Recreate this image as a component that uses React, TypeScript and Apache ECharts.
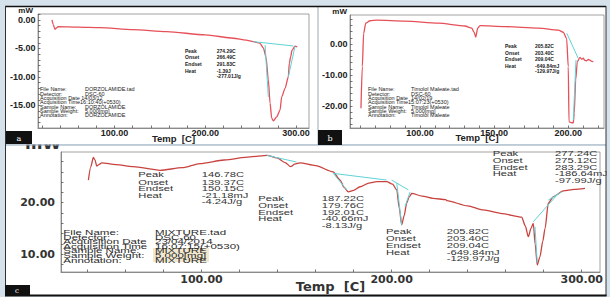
import React, { useEffect, useRef } from "react";
import * as echarts from "echarts";

// ---------- Panel a : Dorzolamide ----------
const dorzTemp = [31.1, 32.5, 34.4, 36, 37.7, 60, 84, 120, 157.5, 200, 231, 245, 253, 260.3, 264, 266.9, 269.5, 271.4, 273.2, 275, 278.7, 282.4, 284.2, 287.9, 291.5, 292.6, 294.2, 295.6, 298.9, 301.4];
const dorzHeat = [0, -0.8, -1.63, -1.4, -1.17, -1.25, -1.35, -1.7, -2.05, -2.6, -3.2, -3.55, -3.81, -4.09, -4.9, -6.47, -10.5, -14.6, -17.2, -17.7, -17.0, -15.8, -13.5, -12.0, -10.0, -7.6, -6.4, -5.3, -4.6, -4.7];
// cyan analysis lines [t1, v1, t2, v2]
const dorzCyan = [
  [253, -3.8, 297, -4.56],
  [265.9, -4.4, 269.5, -13.5],
  [298.9, -4.6, 291.5, -10.0],
];
const dorzXLabels = [100, 200, 300];
const dorzYLabels = [0, -5, -10, -15];
const dorzAnnLabels = ["Peak", "Onset", "Endset", "Heat"];
const dorzAnnValues = ["274.29C", "266.49C", "291.83C", "-1.39J", "-277.01J/g"];
const dorzInfo = [
  ["File Name:", "DORZOLAMIDE.tad"],
  ["Detector:", "DSC-60"],
  ["Acquisition Date 14/03/12", ""],
  ["Acquisition Time16:10:40(+0530)", ""],
  ["Sample Name:", "DORZOLAMIDE"],
  ["Sample Weight:", "5.000[mg]"],
  ["Annotation:", "DORZOLAMIDE"],
];

// ---------- Panel b : Timolol Maleate ----------
const timTemp = [60.2, 61.1, 62, 63.4, 66.3, 70.8, 89.9, 112.3, 130.3, 134.9, 136.5, 137.6, 138.9, 140.5, 157.3, 179.8, 193.3, 196.6, 198.9, 200, 200.5, 202.3, 203.4, 204, 205, 206.1, 207.9, 209, 210.1, 211.2, 212.4, 213.5, 214.6, 215.8, 216.9];
const timHeat = [-20.7, -7.3, 3.4, 6.7, 7.5, 7.7, 7.4, 6.7, 5.8, 5.1, 3.8, 2.2, 5.1, 5.9, 5.6, 5.1, 4.5, 3.8, 1.8, -7.3, -25.1, -25.4, -25.4, -22.4, -11.6, -5.7, -4.3, -4.9, -4.6, -5.3, -5.4, -5.0, -5.2, -5.6, -5.7];
const timCyan = [
  [199, 3.45, 206.7, -4.6],
  [203.4, -24.5, 205.2, -5.2],
];
const timXLabels = [100, 150, 200];
const timYLabels = [0, -10, -20];
const timAnnLabels = ["Peak", "Onset", "Endset", "Heat"];
const timAnnValues = ["205.82C", "203.40C", "209.04C", "-649.84mJ", "-129.97J/g"];
const timInfo = [
  ["File Name:", "Timolol Maleate.tad"],
  ["Detector:", "DSC-60"],
  ["Acquisition Date", "14/02/19"],
  ["Acquisition Time15:07:23(+0530)", ""],
  ["Sample Name:", "Timolol Maleate"],
  ["Sample Weight:", "5.000[mg]"],
  ["Annotation:", "Timolol Maleate"],
];

// ---------- Panel c : Mixture ----------
const mixTemp = [40.5, 41.8, 43.1, 44.0, 44.9, 46.0, 47.5, 55, 64, 78.2, 90, 99.2, 112, 125.5, 134.5, 139.7, 144, 146.9, 149, 151.8, 160, 169.2, 172.9, 175, 177.2, 180, 183.4, 188, 192.2, 197.4, 200.5, 202.7, 204, 205.3, 206.6, 207.9, 209.2, 210.6, 216, 221.8, 228.5, 229, 240, 248.1, 258, 268.4, 270.3, 271.9, 273.3, 274.5, 275.5, 276.6, 278, 279.5, 280.7, 282.4, 285.1, 290.3, 296, 301.7];
const mixHeat = [24.4, 27.0, 28.8, 28.3, 27.1, 27.4, 27.75, 27.4, 27.0, 26.3, 26.8, 27.6, 28.3, 28.9, 29.2, 28.7, 27.8, 27.0, 27.5, 27.75, 27.2, 26.0, 24.4, 23.0, 22.1, 22.4, 23.1, 23.8, 24.1, 24.1, 23.6, 22.5, 19, 15.7, 17.5, 19.9, 21.1, 21.8, 21.3, 20.85, 20.6, 20.4, 19.4, 18.6, 17.9, 17.2, 15.5, 13.4, 15.0, 16.0, 12, 7.9, 9.5, 12.5, 15.0, 19.9, 21.2, 22.3, 22.6, 22.8];
const mixCyan = [
  [134.3, 29.2, 150, 27.9],
  [169.3, 25.7, 197.4, 24.4],
  [169.3, 25.7, 176.4, 22.5],
  [200, 24.4, 208.8, 22.5],
  [202.7, 23.8, 205.3, 15.7],
  [207, 19.2, 209.7, 22.1],
  [274.5, 16.3, 287.7, 21.8],
  [275.4, 15.35, 276.6, 8.3],
  [282.4, 20.5, 289.5, 22.1],
];
const mixXLabels = [100, 200, 300];
const mixYLabels = [10, 20];
const mixAnnLabels = ["Peak", "Onset", "Endset", "Heat"];
const mixAnn1 = ["146.78C", "139.37C", "150.15C", "-21.18mJ", "-4.24J/g"];
const mixAnn2 = ["187.22C", "179.76C", "192.01C", "-40.66mJ", "-8.13J/g"];
const mixAnn3 = ["205.82C", "203.40C", "209.04C", "-649.84mJ", "-129.97J/g"];
const mixAnn4 = ["277.24C", "275.12C", "283.29C", "-186.64mJ", "-97.99J/g"];
const mixInfo = [
  ["File Name:", "MIXTURE.tad"],
  ["Detector:", "DSC-60"],
  ["Acquisition Date", "23/04/2014"],
  ["Acquisition Time", "16:07:15(+0530)"],
  ["Sample Name:", "MIXTURE"],
  ["Sample Weight:", "5.000[mg]"],
  ["Annotation:", "MIXTURE"],
];

const range = (a: number, b: number, s: number) => {
  const r: number[] = [];
  for (let v = a; v <= b + 1e-9; v += s) r.push(Math.round(v * 100) / 100);
  return r;
};
const zip = (a: number[], b: number[]) => a.map((x, i) => [x, b[i]]);

const BG = "#d6e2eb";
const RED_AB = "#e65058";
const RED_C = "#c8433f";
const CYAN = "#5ed3d6";

function txt(x: number, y: number, text: string, size: number, o: any = {}) {
  return {
    type: "text",
    x,
    y,
    z: o.z ?? 20,
    scaleX: o.sx ?? 1,
    style: {
      text,
      fontSize: size,
      fontFamily: o.ff ?? "Liberation Sans",
      fontWeight: o.fw ?? "normal",
      fill: o.c ?? "#222",
      align: o.al ?? "left",
      textAlign: o.al ?? "left",
      verticalAlign: "middle",
      textVerticalAlign: "middle",
    },
  };
}

function xAx(grid: number, min: number, max: number, labels: number[], ticks: number[], big: boolean, gap: number) {
  return {
    type: "value",
    gridIndex: grid,
    min,
    max,
    axisLine: { show: true, onZero: false, lineStyle: { color: "#777", width: 0.8 } },
    axisTick: { show: true, inside: true, length: 2.5, customValues: ticks, lineStyle: { color: "#555", width: 0.8 } },
    axisLabel: {
      customValues: labels,
      formatter: (v: number) => v.toFixed(2),
      margin: big ? 2 : 0.5,
      fontFamily: big ? "DejaVu Sans" : "Liberation Sans",
      fontSize: big ? 11 : 9,
      fontWeight: "bold",
      color: big ? "#333" : "#222",
    },
    splitLine: { show: false },
    name: "Temp  [C]",
    nameLocation: "middle",
    nameGap: gap,
    nameMoveOverlap: false,
    nameTextStyle: {
      fontFamily: big ? "DejaVu Sans" : "Liberation Sans",
      fontSize: big ? 13 : 9.5,
      fontWeight: "bold",
      color: big ? "#333" : "#222",
    },
  };
}

function yAx(grid: number, min: number, max: number, labels: number[], ticks: number[], big: boolean) {
  return {
    type: "value",
    gridIndex: grid,
    position: "left",
    min,
    max,
    axisLine: { show: true, onZero: false, lineStyle: { color: "#777", width: 0.8 } },
    axisTick: { show: true, inside: true, length: 2.5, customValues: ticks, lineStyle: { color: "#555", width: 0.8 } },
    axisLabel: {
      show: big,
      customValues: labels,
      formatter: (v: number) => Number(v).toFixed(2),
      margin: 6,
      fontFamily: "DejaVu Sans",
      fontSize: 11,
      fontWeight: "bold",
      color: "#333",
    },
    splitLine: { show: false },
  };
}

function redSeries(xi: number, t: number[], h: number[], color: string) {
  return {
    type: "line",
    xAxisIndex: xi,
    yAxisIndex: xi,
    data: zip(t, h),
    symbol: "none",
    showSymbol: false,
    smooth: 0.25,
    smoothMonotone: "x",
    lineStyle: { color, width: 1.3 },
    z: 3,
  };
}

function cyanSeries(xi: number, segs: number[][]) {
  return segs.map((s) => ({
    type: "line",
    xAxisIndex: xi,
    yAxisIndex: xi,
    data: [
      [s[0], s[1]],
      [s[2], s[3]],
    ],
    symbol: "none",
    showSymbol: false,
    lineStyle: { color: CYAN, width: 1 },
    z: 4,
  }));
}

function annBlock(lx: number, vx: number, ys: number[], labels: string[], values: string[], size: number, o: any = {}) {
  const els: any[] = [];
  labels.forEach((l, i) => els.push(txt(lx, ys[i], l, size, o)));
  values.forEach((v, i) => els.push(txt(vx, ys[i], v, size, o)));
  return els;
}

function infoBlock(lx: number, vx: number, y0: number, step: number, rows: string[][], size: number, o: any = {}) {
  const els: any[] = [];
  rows.forEach((r, i) => {
    els.push(txt(lx, y0 + i * step, r[0], size, o));
    if (r[1]) els.push(txt(vx, y0 + i * step, r[1], size, o));
  });
  return els;
}

export default function App() {
  const ref = useRef<HTMLDivElement>(null);
  useEffect(() => {
    if (!ref.current) return;
    const chart = echarts.init(ref.current, undefined, { renderer: "svg" });

    const gridBase = { show: true, borderColor: "#8c8c8c", borderWidth: 0.8, backgroundColor: "transparent" };
    const grids = [
      { ...gridBase, left: 38, top: 14, width: 271, height: 114 },
      { ...gridBase, left: 350, top: 15, width: 254, height: 113 },
      { ...gridBase, left: 61, top: 152, width: 539, height: 120 },
    ];
    const yRanges = [
      [-18.95, 1.05],
      [-27.1, 9.35],
      [6.55, 29.85],
    ];

    const graphics: any[] = [
      { type: "rect", z: -10, shape: { x: 0, y: 0, width: 610, height: 297 }, style: { fill: BG } },
      { type: "rect", z: -9, shape: { x: 5, y: 145, width: 601, height: 151 }, style: { fill: "#fff" } },
      { type: "text", x: 25, y: 144, z: -8, scaleX: 1.2, style: { text: "mW", fontSize: 14, fontFamily: "DejaVu Sans", fontWeight: "bold", fill: "#333", align: "left", textAlign: "left", verticalAlign: "middle", textVerticalAlign: "middle" } },
      { type: "rect", z: -7, shape: { x: 5, y: 6, width: 601, height: 138.5 }, style: { fill: "#fff" } },
      { type: "line", z: -6, shape: { x1: 5, y1: 145, x2: 606, y2: 145 }, style: { stroke: "#8ea4b7", lineWidth: 1 } },
      { type: "line", z: -6, shape: { x1: 318, y1: 6, x2: 318, y2: 145 }, style: { stroke: "#9aa9b6", lineWidth: 1 } },
      { type: "line", z: -6, shape: { x1: 5, y1: 6.5, x2: 606, y2: 6.5 }, style: { stroke: "#111", lineWidth: 1.5 } },
      { type: "line", z: -6, shape: { x1: 5.5, y1: 6, x2: 5.5, y2: 296 }, style: { stroke: "#333", lineWidth: 1 } },
      { type: "rect", z: 30, shape: { x: 606.5, y: 0, width: 4, height: 297 }, style: { fill: BG } },
      { type: "line", z: 31, shape: { x1: 606, y1: 6, x2: 606, y2: 296 }, style: { stroke: "#333", lineWidth: 1 } },
      { type: "line", z: 31, shape: { x1: 5, y1: 295.5, x2: 606.5, y2: 295.5 }, style: { stroke: "#111", lineWidth: 2 } },
      { type: "rect", z: 21, shape: { x: 6, y: 131, width: 26, height: 13 }, style: { fill: "#111" } },
      { type: "rect", z: 21, shape: { x: 318, y: 130, width: 24, height: 15 }, style: { fill: "#111" } },
      { type: "rect", z: 21, shape: { x: 5, y: 285, width: 25, height: 11 }, style: { fill: "#111" } },
      txt(19, 138, "a", 8, { ff: "DejaVu Serif", c: "#fff", al: "center", z: 22 }),
      txt(330, 138, "b", 8, { ff: "DejaVu Serif", c: "#fff", al: "center", z: 22 }),
      txt(17, 290.5, "c", 7, { ff: "DejaVu Serif", c: "#fff", al: "center", z: 22 }),
      txt(33, 10, "mW", 8, { fw: "bold", al: "right", z: 22 }),
      txt(347, 11.5, "mW", 8, { fw: "bold", al: "right", z: 22 }),
      { type: "rect", z: -5, shape: { x: 153, y: 248, width: 56, height: 14 }, style: { fill: "#f2e8cf" } },
    ];

    // y tick labels of panels a and b: one multi-line text per axis, row spacing from the
    // library's linear mapping of the (equally spaced) label values onto the grid.
    const yLabelColumn = (gi: number, values: number[]) => {
      const g = grids[gi];
      const map = (v: number) => echarts.number.linearMap(v, yRanges[gi], [g.top + g.height, g.top], true);
      const step = Math.abs(map(values[1]) - map(values[0]));
      return {
        type: "text",
        x: g.left - 2.5,
        y: map(values[0]) - step / 2,
        z: 50,
        style: {
          text: values.map((v) => v.toFixed(2)).join("\n"),
          fontSize: 9,
          fontFamily: "Liberation Sans",
          fontWeight: "bold",
          fill: "#222",
          lineHeight: step,
          align: "right",
          textAlign: "right",
          verticalAlign: "top",
          textVerticalAlign: "top",
        },
      };
    };
    graphics.push(yLabelColumn(0, dorzYLabels));
    graphics.push(yLabelColumn(1, timYLabels));

    graphics.push(...annBlock(185, 216.7, [50.7, 57.3, 64, 70.7, 76], dorzAnnLabels, dorzAnnValues, 5, { fw: "bold" }));
    graphics.push(...infoBlock(40, 85, 89.3, 4.33, dorzInfo, 5.5));
    graphics.push(...annBlock(505, 535, [46, 52.5, 59, 65.5, 71], timAnnLabels, timAnnValues, 5, { fw: "bold" }));
    graphics.push(...infoBlock(368, 411, 89.3, 4.33, timInfo, 5.5));
    const cOpt = { sx: 1.6, c: "#333" };
    graphics.push(...annBlock(138.3, 201.7, [175, 182.3, 189.1, 195.5, 201.7], mixAnnLabels, mixAnn1, 7, cOpt));
    graphics.push(...annBlock(258.3, 321.7, [198.3, 205.7, 212.3, 219, 225.3], mixAnnLabels, mixAnn2, 7, cOpt));
    graphics.push(...annBlock(386, 446.7, [231.7, 239, 246, 252.7, 258.3], mixAnnLabels, mixAnn3, 7, cOpt));
    graphics.push(...annBlock(492.7, 555, [153.5, 160.7, 167.3, 174, 180.7], mixAnnLabels, mixAnn4, 7, cOpt));
    graphics.push(...infoBlock(63.3, 155, 232.5, 4.6, mixInfo, 6.6, { sx: 1.75, c: "#2a2a2a" }));

    const option: any = {
      animation: false,
      backgroundColor: "transparent",
      grid: grids,
      xAxis: [
        xAx(0, 15.7, 314.3, dorzXLabels, range(20, 300, 20), false, 5.5),
        xAx(1, 52.8, 224.1, timXLabels, range(60, 220, 10), false, 4.5),
        xAx(2, 26.1, 309.6, mixXLabels, range(40, 300, 20), true, 8),
      ],
      yAxis: [
        yAx(0, yRanges[0][0], yRanges[0][1], dorzYLabels, range(-18, 1, 1), false),
        yAx(1, yRanges[1][0], yRanges[1][1], timYLabels, range(-26, 8, 2), false),
        yAx(2, yRanges[2][0], yRanges[2][1], mixYLabels, range(8, 28, 2), true),
      ],
      series: [
        redSeries(0, dorzTemp, dorzHeat, RED_AB),
        ...cyanSeries(0, dorzCyan),
        redSeries(1, timTemp, timHeat, RED_AB),
        ...cyanSeries(1, timCyan),
        redSeries(2, mixTemp, mixHeat, RED_C),
        ...cyanSeries(2, mixCyan),
      ],
      graphic: { elements: graphics },
    };
    chart.setOption(option);
    return () => chart.dispose();
  }, []);
  return <div ref={ref} style={{ position: "absolute", left: 0, top: 0, width: 610, height: 297 }} />;
}
